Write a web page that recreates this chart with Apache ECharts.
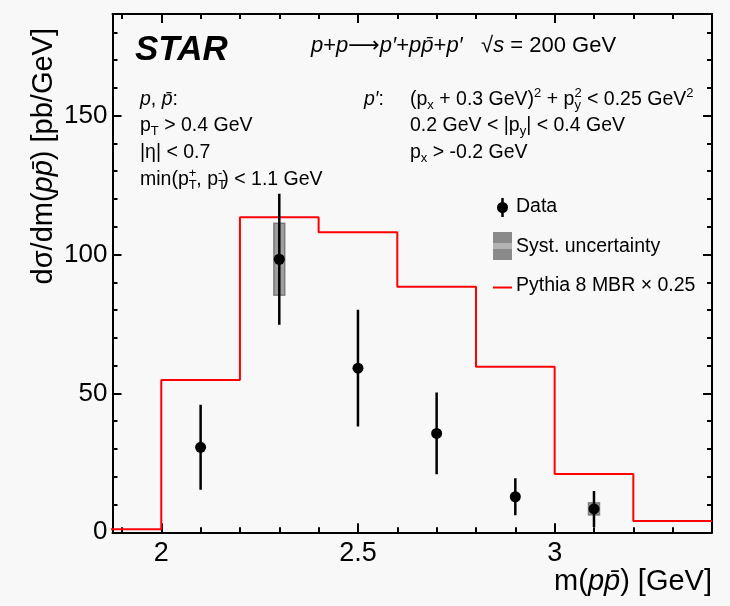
<!DOCTYPE html>
<html>
<head>
<meta charset="utf-8">
<script src="https://cdn.jsdelivr.net/npm/echarts@6/dist/echarts.min.js"></script>
<style>
  html, body { margin: 0; padding: 0; background: #f8f8f8; }
  #chart { width: 730px; height: 606px; }
</style>
</head>
<body>
<div id="chart"></div>
<script>
// Measured p pbar invariant-mass points: bin centres (GeV) and cross sections (pb/GeV)
const massPoints = [2.1, 2.3, 2.5, 2.7, 2.9, 3.1];
const xsecValues = [30.6, 98.3, 59.1, 35.6, 12.8, 8.4];
const statErrors = [15.3, 23.6, 21.0, 14.7, 6.7, 6.5];
const systErrors = [null, 13.0, null, null, null, 2.2];

// Pythia 8 MBR prediction (x 0.25): bin edges and bin contents
const pythiaEdges = [1.8, 2.0, 2.2, 2.4, 2.6, 2.8, 3.0, 3.2, 3.4];
const pythiaValues = [1.1, 54.8, 113.4, 108.0, 88.4, 59.6, 21.0, 4.1];

// Axis ticks
const xMajorTicks = [2, 2.5, 3];
const xMinorTicks = [1.9, 2.1, 2.2, 2.3, 2.4, 2.6, 2.7, 2.8, 2.9, 3.1, 3.2, 3.3];
const yMajorTicks = [0, 50, 100, 150];
const yMinorTicks = [10, 20, 30, 40, 60, 70, 80, 90, 110, 120, 130, 140, 160, 170, 180];

const X_MIN = 1.876, X_MAX = 3.4, Y_MIN = 0, Y_MAX = 186.6;
const FONT = 'Liberation Sans, Arial, Helvetica, sans-serif';

function xAxisDef(position, ticks, len, showLine, showLabels) {
  return {
    type: 'value', position, min: X_MIN, max: X_MAX,
    axisLine: { show: showLine, onZero: false, lineStyle: { color: '#000', width: 2 } },
    axisTick: { show: true, inside: true, length: len, customValues: ticks,
                lineStyle: { color: '#000', width: 2 } },
    axisLabel: showLabels
      ? { show: true, customValues: ticks, margin: 8, color: '#000', fontSize: 27, fontFamily: FONT }
      : { show: false },
    splitLine: { show: false }
  };
}
function yAxisDef(position, ticks, len, showLine, showLabels) {
  return {
    type: 'value', position, min: Y_MIN, max: Y_MAX,
    axisLine: { show: showLine, onZero: false, lineStyle: { color: '#000', width: 2 } },
    axisTick: { show: true, inside: true, length: len, customValues: ticks,
                lineStyle: { color: '#000', width: 2 } },
    axisLabel: showLabels
      ? { show: true, customValues: ticks, margin: 5, color: '#000', fontSize: 26, fontFamily: FONT }
      : { show: false },
    splitLine: { show: false }
  };
}

// Rich-text styles for italics, subscripts and superscripts
function richFor(size) {
  const s = Math.round(size * 0.68);
  const lh = Math.round(size * 1.3);
  return {
    i:    { fontFamily: FONT, fontSize: size, fontStyle: 'italic', fill: '#000', lineHeight: lh },
    arr:  { fontFamily: 'DejaVu Sans', fontSize: size, fill: '#000', lineHeight: lh },
    sub:  { fontFamily: FONT, fontSize: s, fill: '#000', padding: [10, 0, 0, 0], lineHeight: lh },
    subz: { fontFamily: FONT, fontSize: s, fill: '#000', padding: [10, 0, 0, 0], lineHeight: lh, width: 0 },
    sup:  { fontFamily: FONT, fontSize: s, fill: '#000', padding: [0, 0, 14, 0], lineHeight: lh }
  };
}
function label(x, y, text, size, extra) {
  return {
    type: 'text', x, y, silent: true, z: 100,
    style: Object.assign({
      text, fill: '#000', fontFamily: FONT, fontSize: size,
      lineHeight: Math.round(size * 1.3),
      align: 'left', verticalAlign: 'middle', rich: richFor(size)
    }, extra || {})
  };
}

const histData = pythiaEdges.map((e, i) => [e, pythiaValues[Math.min(i, pythiaValues.length - 1)]]);
const pointData = massPoints.map((x, i) => [x, xsecValues[i]]);
const statData = massPoints.map((x, i) => [x, xsecValues[i], statErrors[i]]);
const systData = massPoints.map((x, i) => [x, xsecValues[i], systErrors[i]]).filter(d => d[2] != null);

const graphics = [
  // Headline
  label(135, 50, 'STAR', 35, { fontWeight: 'bold', fontStyle: 'italic' }),
  label(311, 46, '{i|p}+{i|p}{arr|\u27F6}{i|p\u2032}+{i|pp\u0304}+{i|p\u2032}   \u221A{i|s} = 200 GeV', 22),
  // Track cuts
  label(140, 100, '{i|p}, {i|p\u0304}:', 19.5),
  label(140, 126, 'p{sub|T} > 0.4 GeV', 19.5),
  label(140, 153, '|\u03B7| < 0.7', 19.5),
  label(140, 180, 'min(p{subz|T}{sup|+}, p{subz|T}{sup|-}) < 1.1 GeV', 19.5),
  // Forward proton cuts
  label(364, 100, '{i|p\u2032}:', 19.5),
  label(410, 100, '(p{sub|x} + 0.3 GeV){sup|2} + p{subz|y}{sup|2} < 0.25 GeV{sup|2}', 19.5),
  label(410, 126, '0.2 GeV < |p{sub|y}| < 0.4 GeV', 19.5),
  label(410, 153, 'p{sub|x} > -0.2 GeV', 19.5),
  // Axis titles
  label(712, 582, 'm({i|pp\u0304}) [GeV]', 29, { align: 'right' }),
  Object.assign(label(44, 28, 'd\u03C3/dm({i|pp\u0304}) [pb/GeV]', 29, { align: 'right' }), { rotation: Math.PI / 2 }),
  // Legend
  { type: 'line', silent: true, z: 100, shape: { x1: 502.5, y1: 198, x2: 502.5, y2: 217 }, style: { stroke: '#000', lineWidth: 2.5 } },
  { type: 'circle', silent: true, z: 101, shape: { cx: 502.5, cy: 207.5, r: 5.5 }, style: { fill: '#000' } },
  label(516, 207, 'Data', 19.5),
  { type: 'rect', silent: true, z: 100, shape: { x: 493, y: 232, width: 19, height: 28 }, style: { fill: '#8a8a8a' } },
  { type: 'rect', silent: true, z: 101, shape: { x: 493, y: 243, width: 19, height: 6 }, style: { fill: '#b3b3b3' } },
  label(516, 247, 'Syst. uncertainty', 19.5),
  { type: 'line', silent: true, z: 100, shape: { x1: 493, y1: 287.5, x2: 512, y2: 287.5 }, style: { stroke: '#ff0000', lineWidth: 2 } },
  label(516, 286, 'Pythia 8 MBR \u00D7 0.25', 19.5)
];

const chart = echarts.init(document.getElementById('chart'), null, { renderer: 'canvas' });
chart.setOption({
  animation: false,
  backgroundColor: '#f8f8f8',
  grid: { left: 112.5, right: 18, top: 14, bottom: 73.7, containLabel: false, outerBoundsMode: 'none' },
  xAxis: [
    xAxisDef('bottom', xMajorTicks, 9, true, true),
    xAxisDef('bottom', xMinorTicks, 5, false, false),
    xAxisDef('top', xMajorTicks, 9, true, false),
    xAxisDef('top', xMinorTicks, 5, false, false)
  ],
  yAxis: [
    yAxisDef('left', yMajorTicks, 9, true, true),
    yAxisDef('left', yMinorTicks, 5, false, false),
    yAxisDef('right', yMajorTicks, 9, true, false),
    yAxisDef('right', yMinorTicks, 5, false, false)
  ],
  series: [
    {
      name: 'Pythia 8 MBR', type: 'line', step: 'end', data: histData,
      xAxisIndex: 0, yAxisIndex: 0, symbol: 'none', clip: true, z: 2,
      lineStyle: { color: '#ff0000', width: 2 }
    },
    {
      name: 'Syst. uncertainty', type: 'custom', data: systData,
      xAxisIndex: 0, yAxisIndex: 0, z: 3, clip: true,
      renderItem(params, api) {
        const x = api.value(0), y = api.value(1), s = api.value(2);
        const p1 = api.coord([x - 0.014, y + s]);
        const p2 = api.coord([x + 0.014, y - s]);
        return {
          type: 'rect',
          shape: { x: p1[0], y: p1[1], width: p2[0] - p1[0], height: p2[1] - p1[1] },
          style: { fill: 'rgba(110,110,110,0.65)', stroke: 'rgba(80,80,80,0.6)', lineWidth: 1.5 }
        };
      }
    },
    {
      name: 'Stat. error', type: 'custom', data: statData,
      xAxisIndex: 0, yAxisIndex: 0, z: 4, clip: true,
      renderItem(params, api) {
        const x = api.value(0), y = api.value(1), e = api.value(2);
        const top = api.coord([x, y + e]);
        const bot = api.coord([x, y - e]);
        return {
          type: 'line',
          shape: { x1: top[0], y1: top[1], x2: bot[0], y2: bot[1] },
          style: { stroke: '#000', lineWidth: 2.5 }
        };
      }
    },
    {
      name: 'Data', type: 'scatter', data: pointData,
      xAxisIndex: 0, yAxisIndex: 0, z: 5,
      symbol: 'circle', symbolSize: 11, itemStyle: { color: '#000', opacity: 1 }
    }
  ],
  graphic: graphics
});
</script>
</body>
</html>
